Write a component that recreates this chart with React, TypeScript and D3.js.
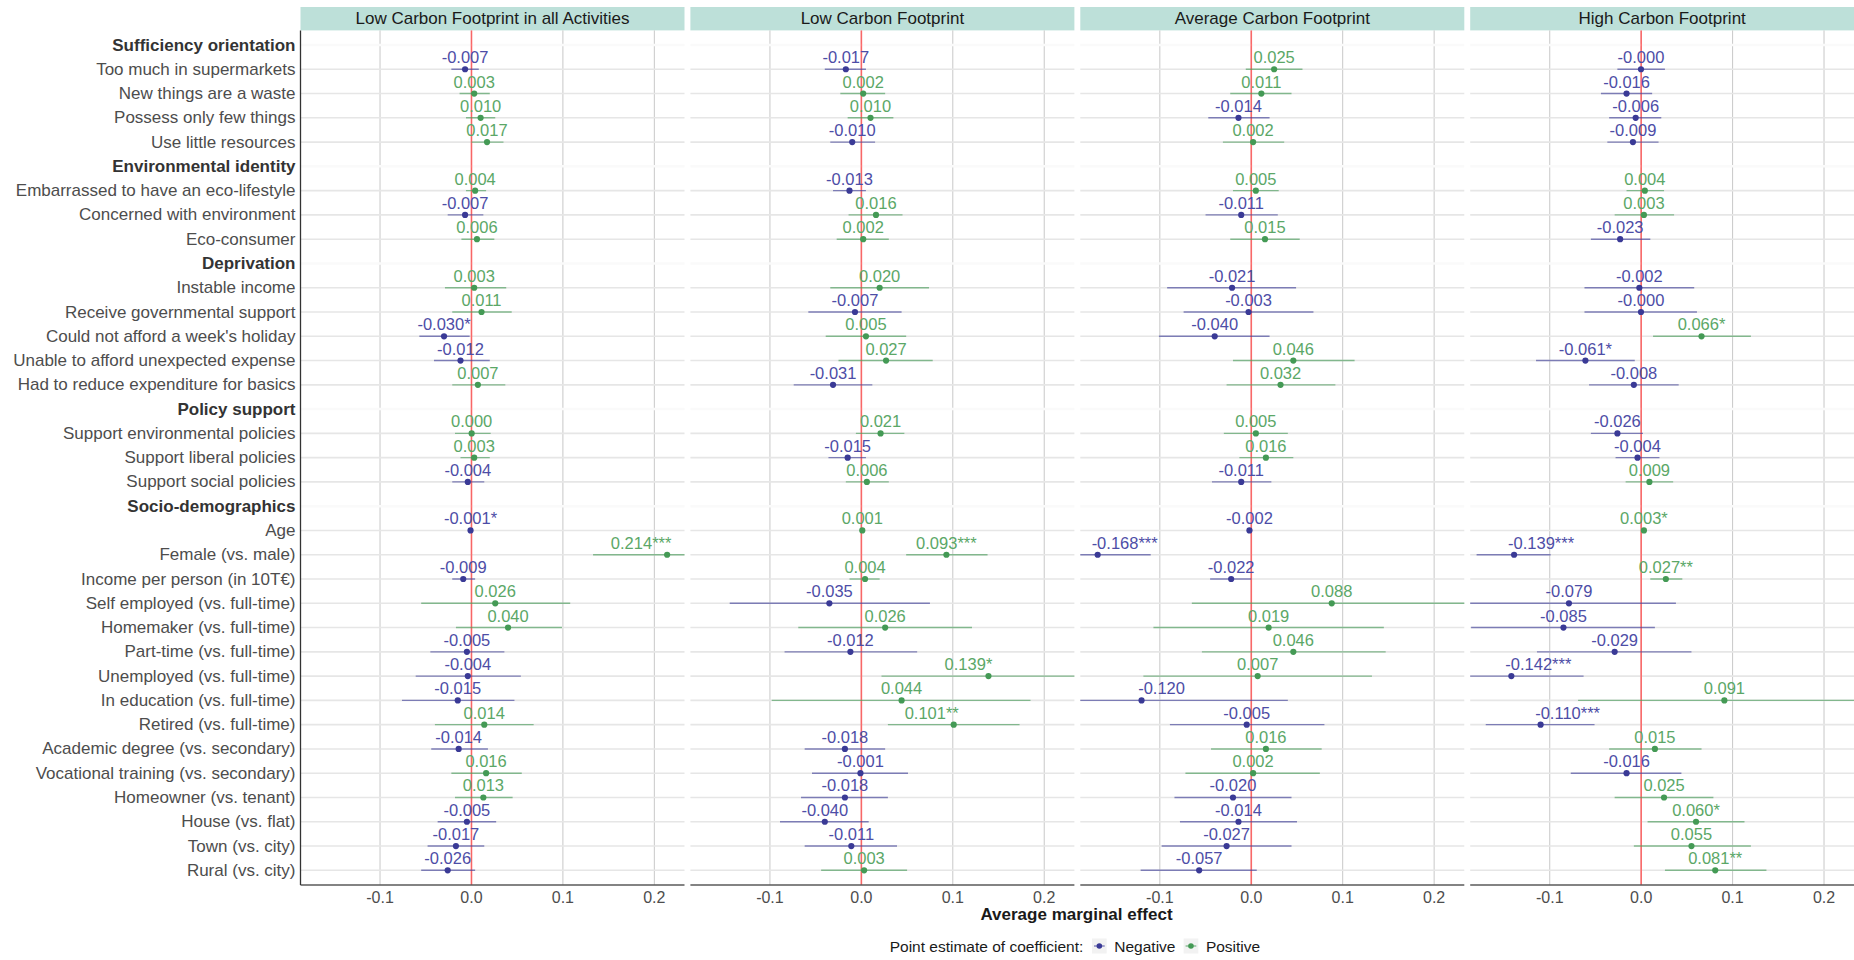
import React from "react";
import * as d3 from "d3";

// facet titles
const panels = [
  "Low Carbon Footprint in all Activities",
  "Low Carbon Footprint",
  "Average Carbon Footprint",
  "High Carbon Footprint",
];

const groups = [
  "Sufficiency orientation",
  "Environmental identity",
  "Deprivation",
  "Policy support",
  "Socio-demographics",
];
const groupSizes = [4, 3, 5, 3, 15];

const variables = [
  "Too much in supermarkets",
  "New things are a waste",
  "Possess only few things",
  "Use little resources",
  "Embarrassed to have an eco-lifestyle",
  "Concerned with environment",
  "Eco-consumer",
  "Instable income",
  "Receive governmental support",
  "Could not afford a week's holiday",
  "Unable to afford unexpected expense",
  "Had to reduce expenditure for basics",
  "Support environmental policies",
  "Support liberal policies",
  "Support social policies",
  "Age",
  "Female (vs. male)",
  "Income per person (in 10T€)",
  "Self employed (vs. full-time)",
  "Homemaker (vs. full-time)",
  "Part-time (vs. full-time)",
  "Unemployed (vs. full-time)",
  "In education (vs. full-time)",
  "Retired (vs. full-time)",
  "Academic degree (vs. secondary)",
  "Vocational training (vs. secondary)",
  "Homeowner (vs. tenant)",
  "House (vs. flat)",
  "Town (vs. city)",
  "Rural (vs. city)",
];

// point estimates, one array per facet (same order as variables)
const estAll = [-0.007, 0.003, 0.010, 0.017, 0.004, -0.007, 0.006, 0.003, 0.011, -0.030, -0.012, 0.007, 0.0002, 0.003, -0.004, -0.001, 0.214, -0.009, 0.026, 0.040, -0.005, -0.004, -0.015, 0.014, -0.014, 0.016, 0.013, -0.005, -0.017, -0.026];
const estLow = [-0.017, 0.002, 0.010, -0.010, -0.013, 0.016, 0.002, 0.020, -0.007, 0.005, 0.027, -0.031, 0.021, -0.015, 0.006, 0.001, 0.093, 0.004, -0.035, 0.026, -0.012, 0.139, 0.044, 0.101, -0.018, -0.001, -0.018, -0.040, -0.011, 0.003];
const estAvg = [0.025, 0.011, -0.014, 0.002, 0.005, -0.011, 0.015, -0.021, -0.003, -0.040, 0.046, 0.032, 0.005, 0.016, -0.011, -0.002, -0.168, -0.022, 0.088, 0.019, 0.046, 0.007, -0.120, -0.005, 0.016, 0.002, -0.020, -0.014, -0.027, -0.057];
const estHigh = [-0.0002, -0.016, -0.006, -0.009, 0.004, 0.003, -0.023, -0.002, -0.0002, 0.066, -0.061, -0.008, -0.026, -0.004, 0.009, 0.003, -0.139, 0.027, -0.079, -0.085, -0.029, -0.142, 0.091, -0.110, 0.015, -0.016, 0.025, 0.060, 0.055, 0.081];

// confidence interval bounds
const loAll = [-0.022, -0.013, -0.006, -0.000, -0.006, -0.026, -0.011, -0.029, -0.021, -0.057, -0.041, -0.021, -0.018, -0.012, -0.021, -0.002, 0.133, -0.021, -0.055, -0.017, -0.045, -0.061, -0.076, -0.040, -0.044, -0.022, -0.018, -0.037, -0.048, -0.055];
const hiAll = [0.008, 0.020, 0.026, 0.035, 0.016, 0.013, 0.025, 0.038, 0.044, -0.002, 0.020, 0.037, 0.021, 0.020, 0.014, 0.000, 0.295, 0.004, 0.108, 0.099, 0.036, 0.054, 0.047, 0.068, 0.018, 0.055, 0.045, 0.027, 0.014, 0.004];
const loLow = [-0.040, -0.023, -0.015, -0.034, -0.031, -0.014, -0.027, -0.034, -0.058, -0.039, -0.025, -0.074, -0.006, -0.036, -0.017, 0.000, 0.049, -0.013, -0.144, -0.069, -0.084, 0.022, -0.098, 0.029, -0.062, -0.054, -0.066, -0.089, -0.062, -0.044];
const hiLow = [0.005, 0.026, 0.035, 0.015, 0.005, 0.045, 0.030, 0.074, 0.044, 0.049, 0.078, 0.012, 0.047, 0.005, 0.030, 0.002, 0.138, 0.020, 0.075, 0.121, 0.061, 0.256, 0.185, 0.173, 0.026, 0.051, 0.029, 0.008, 0.039, 0.050];
const loAvg = [-0.006, -0.023, -0.047, -0.031, -0.020, -0.050, -0.023, -0.092, -0.074, -0.101, -0.020, -0.027, -0.030, -0.013, -0.043, -0.003, -0.226, -0.045, -0.065, -0.107, -0.054, -0.118, -0.280, -0.089, -0.044, -0.072, -0.084, -0.078, -0.098, -0.121];
const hiAvg = [0.056, 0.044, 0.020, 0.036, 0.030, 0.029, 0.053, 0.049, 0.068, 0.020, 0.113, 0.092, 0.040, 0.046, 0.022, -0.001, -0.110, 0.000, 0.241, 0.145, 0.147, 0.132, 0.040, 0.080, 0.077, 0.075, 0.044, 0.050, 0.044, 0.006];
const loHigh = [-0.026, -0.044, -0.035, -0.037, -0.016, -0.029, -0.055, -0.062, -0.062, 0.013, -0.115, -0.057, -0.055, -0.028, -0.017, 0.002, -0.180, 0.010, -0.195, -0.186, -0.114, -0.221, -0.069, -0.170, -0.035, -0.077, -0.029, 0.007, -0.008, 0.026];
const hiHigh = [0.026, 0.012, 0.022, 0.019, 0.025, 0.036, 0.010, 0.058, 0.061, 0.120, -0.007, 0.041, 0.002, 0.020, 0.035, 0.004, -0.099, 0.045, 0.038, 0.015, 0.055, -0.063, 0.251, -0.051, 0.066, 0.044, 0.079, 0.113, 0.120, 0.137];

// significance stars (index -> stars)
const starsAll: Record<number, string> = { 9: "*", 15: "*", 16: "***" };
const starsLow: Record<number, string> = { 16: "***", 21: "*", 23: "**" };
const starsAvg: Record<number, string> = { 16: "***" };
const starsHigh: Record<number, string> = { 9: "*", 10: "*", 15: "*", 16: "***", 17: "**", 21: "***", 23: "***", 27: "*", 29: "**" };

const xTicks = [-0.1, 0.0, 0.1, 0.2];

const estimates = [estAll, estLow, estAvg, estHigh];
const lows = [loAll, loLow, loAvg, loHigh];
const highs = [hiAll, hiLow, hiAvg, hiHigh];
const stars = [starsAll, starsLow, starsAvg, starsHigh];

// labels pushed sideways (like ggrepel did) - panel:index -> px
const labelShift: Record<string, number> = {
  "0:16": -26, "1:21": -20, "1:23": -22, "2:16": 27, "2:22": 20,
  "3:16": 27, "3:21": 27, "3:23": 27,
};

const FONT = "'Liberation Sans', Arial, Helvetica, sans-serif";
const NEG = "#3a3a96";
const POS = "#449a55";
const NEG_TXT = "#4d4da6";
const POS_TXT = "#5ba767";

const W = 1854, H = 960;
const panelTop = 30.4, panelBottom = 885;
const panelLeft0 = 300.5, panelStep = 389.9, panelW = 384;

// build rows: header followed by its variables
const rows: { key: string; header: boolean; idx: number }[] = [];
{
  let k = 0;
  groups.forEach((g, gi) => {
    rows.push({ key: g, header: true, idx: -1 });
    for (let j = 0; j < groupSizes[gi]; j++) {
      rows.push({ key: variables[k], header: false, idx: k });
      k++;
    }
  });
}

const fmt = (v: number) => (v < 0 ? "-" : "") + Math.abs(v).toFixed(3);

export default function App() {
  const y = d3.scalePoint<string>()
    .domain(rows.map(r => r.key))
    .range([45, 870.3]);

  return (
    <div style={{ position: "absolute", left: 0, top: 0 }}>
      <svg width={W} height={H} style={{ display: "block", fontFamily: FONT }}>
        <rect width={W} height={H} fill="#ffffff" />
        <defs>
          {panels.map((p, pi) => (
            <clipPath id={`clip${pi}`} key={p}>
              <rect x={panelLeft0 + pi * panelStep} y={panelTop} width={panelW} height={panelBottom - panelTop} />
            </clipPath>
          ))}
        </defs>

        {/* y axis labels */}
        {rows.map(r => (
          <text key={r.key} x={295.5} y={(y(r.key) as number) + 5.5} textAnchor="end"
            fontSize={17} fontWeight={r.header ? "bold" : "normal"}
            fill={r.header ? "#333333" : "#4d4d4d"}>{r.key}</text>
        ))}

        {panels.map((p, pi) => {
          const left = panelLeft0 + pi * panelStep;
          const x = d3.scaleLinear().domain([-0.187, 0.233]).range([left, left + panelW]);
          const est = estimates[pi];
          return (
            <g key={p}>
              {/* strip */}
              <rect x={left} y={7} width={panelW} height={23.4} fill="#bde0d9" />
              <text x={left + panelW / 2} y={24.3} textAnchor="middle" fontSize={17} fill="#1a1a1a">{p}</text>

              {/* grid */}
              {xTicks.map(t => (
                <line key={t} x1={x(t)} x2={x(t)} y1={panelTop} y2={panelBottom} stroke="#c8c8c8" strokeWidth={1} />
              ))}
              {rows.map(r => r.header ? (
                <line key={r.key} x1={left} x2={left + panelW} y1={y(r.key)} y2={y(r.key)} stroke="#fafafa" strokeWidth={2.5} />
              ) : (
                <line key={r.key} x1={left} x2={left + panelW} y1={y(r.key)} y2={y(r.key)} stroke="#e6e6e6" strokeWidth={1.6} />
              ))}

              {/* zero line */}
              <line x1={x(0)} x2={x(0)} y1={panelTop} y2={panelBottom} stroke="#ff5555" strokeOpacity={0.85} strokeWidth={1.6} />

              {/* confidence intervals */}
              <g clipPath={`url(#clip${pi})`}>
                {variables.map((v, i) => (
                  <line key={v} x1={x(lows[pi][i])} x2={x(highs[pi][i])} y1={y(v)} y2={y(v)}
                    stroke={est[i] < 0 ? NEG : POS} strokeOpacity={0.62} strokeWidth={1.4} />
                ))}
              </g>

              {/* points */}
              {variables.map((v, i) => (
                <circle key={v} cx={x(est[i])} cy={y(v)} r={3.1} fill={est[i] < 0 ? NEG : POS} />
              ))}

              {/* value labels */}
              {variables.map((v, i) => (
                <text key={v} x={x(est[i]) + (labelShift[`${pi}:${i}`] || 0)} y={(y(v) as number) - 6}
                  textAnchor="middle" fontSize={16.5} fill={est[i] < 0 ? NEG_TXT : POS_TXT}>
                  {fmt(est[i]) + (stars[pi][i] || "")}
                </text>
              ))}

              {/* bottom axis */}
              <line x1={left} x2={left + panelW} y1={panelBottom} y2={panelBottom} stroke="#5a5a5a" strokeWidth={1.4} />
              {xTicks.map(t => (
                <text key={t} x={x(t)} y={902.5} textAnchor="middle" fontSize={16} fill="#4d4d4d">{t.toFixed(1)}</text>
              ))}
            </g>
          );
        })}

        {/* left axis line */}
        <line x1={panelLeft0} x2={panelLeft0} y1={panelTop} y2={panelBottom} stroke="#333333" strokeWidth={1.3} />

        {/* axis title */}
        <text x={1076.5} y={920} textAnchor="middle" fontSize={17} fontWeight="bold" fill="#1a1a1a">Average marginal effect</text>

        {/* legend */}
        <text x={889.7} y={951.5} fontSize={15.5} fill="#1a1a1a">Point estimate of coefficient:</text>
        {[{ lab: "Negative", c: NEG, kx: 1092 }, { lab: "Positive", c: POS, kx: 1183.6 }].map(k => (
          <g key={k.lab}>
            <rect x={k.kx} y={938.5} width={14.7} height={15} fill="#f2f2f2" />
            <line x1={k.kx + 2} x2={k.kx + 12.7} y1={946} y2={946} stroke={k.c} strokeOpacity={0.62} strokeWidth={1.4} />
            <circle cx={k.kx + 7.35} cy={946} r={2.8} fill={k.c} />
            <text x={k.kx + 22.3} y={951.5} fontSize={15.5} fill="#1a1a1a">{k.lab}</text>
          </g>
        ))}
      </svg>
    </div>
  );
}
